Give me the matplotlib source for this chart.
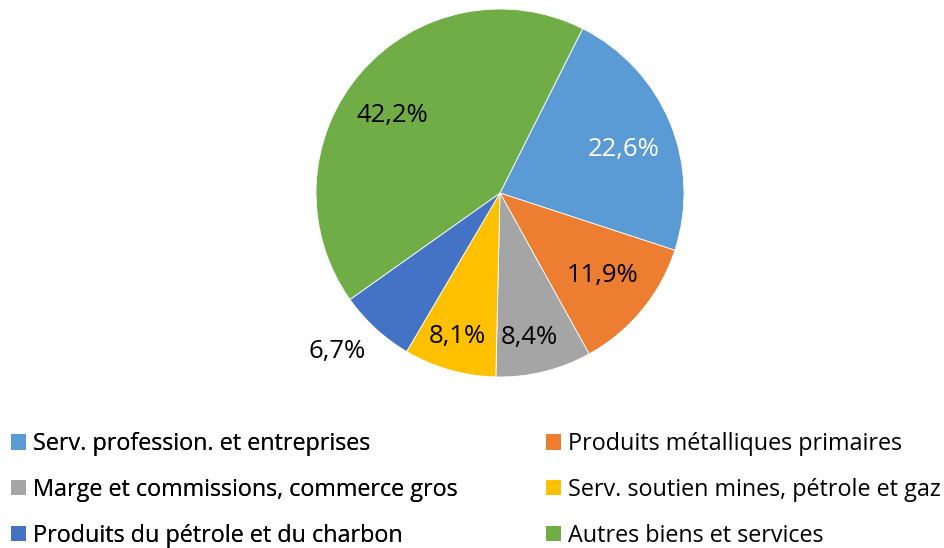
import numpy as np
import matplotlib.pyplot as plt
from matplotlib.patches import Patch

plt.rcParams['font.family'] = ['Open Sans', 'DejaVu Sans']

labels = ["Serv. profession. et entreprises", "Produits métalliques primaires",
          "Marge et commissions, commerce gros", "Serv. soutien mines, pétrole et gaz",
          "Produits du pétrole et du charbon", "Autres biens et services"]
values = [22.6, 11.9, 8.4, 8.1, 6.7, 42.2]
colors = ["#5B9BD5", "#ED7D31", "#A5A5A5", "#FFC000", "#4472C4", "#70AD47"]
txt_colors = ["white", "black", "black", "black", "black", "black"]
# label placement: radial distance and angular nudge (deg) from wedge middle
label_dist = [0.71, 0.716, 0.80, 0.815, 1.235, 0.72]
label_nudge = [-3.3, 1.0, -2.2, -0.5, -3.1, 4.8]

fig = plt.figure(figsize=(9.45, 5.48), dpi=100)
# pie centre ~ (500, 193) px, radius ~184 px
r_px = 184
ax = fig.add_axes([(500 - r_px) / 945, 1 - (193 + r_px) / 548, 2 * r_px / 945, 2 * r_px / 548])
start = 90 - 26.7
wedges, _ = ax.pie(values, colors=colors, startangle=start, counterclock=False,
                   radius=1, wedgeprops=dict(linewidth=0.6, edgecolor='white'))
ax.set_xlim(-1, 1)
ax.set_ylim(-1, 1)
ax.set_aspect('equal')
ax.axis('off')

for w, v, c, d, n in zip(wedges, values, txt_colors, label_dist, label_nudge):
    ang = np.deg2rad((w.theta1 + w.theta2) / 2 + n)
    ax.text(d * np.cos(ang), d * np.sin(ang), f"{v:.1f}%".replace('.', ','),
            ha='center', va='center', fontsize=18.5, color=c)

# legend: two columns, row-major order like the original
fs = 16.8
leg_kw = dict(loc='upper left', frameon=False, fontsize=fs, handlelength=0.64,
              handleheight=0.64, handletextpad=0.3, labelspacing=0.94,
              borderpad=0, borderaxespad=0)
col1 = [Patch(facecolor=colors[i], label=labels[i]) for i in [0, 2, 4]]
col2 = [Patch(facecolor=colors[i], label=labels[i]) for i in [1, 3, 5]]
fig.add_artist(fig.legend(handles=col1, bbox_to_anchor=(11 / 945, 1 - 432 / 548), **leg_kw))
fig.legend(handles=col2, bbox_to_anchor=(546 / 945, 1 - 432 / 548), **leg_kw)

fig.savefig("out.png", dpi=100)
